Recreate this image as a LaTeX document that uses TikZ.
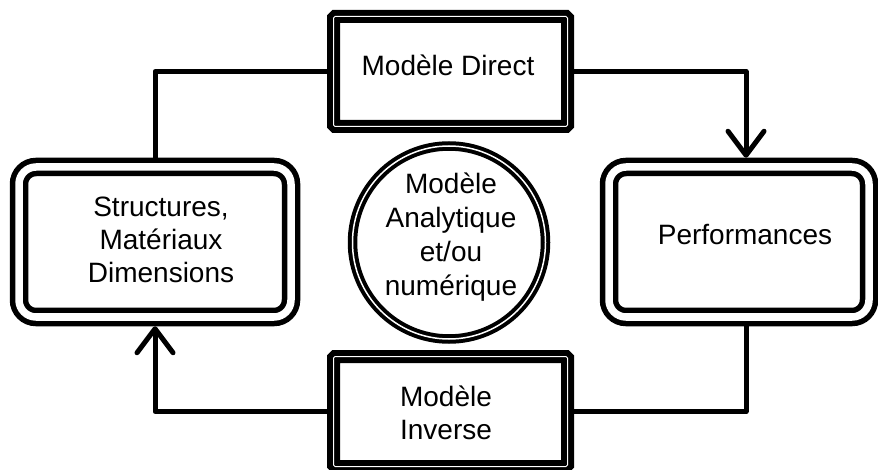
\documentclass[tikz,border=0pt]{standalone}
\usepackage{fontspec}
\setmainfont{Liberation Sans}
\usetikzlibrary{arrows.meta}
\begin{document}
\begin{tikzpicture}[x=1pt,y=-1pt,
  label text/.style={font=\fontsize{28}{33}\selectfont, align=center, inner sep=0pt},
  model box/.style={draw, line width=6pt, double=white, double distance=1pt,
    rounded corners=1.5pt, minimum width=234pt, minimum height=110pt,
    inner sep=0pt, outer sep=6.5pt},
  stage box/.style={draw, line width=5.5pt, double=white, double distance=7.5pt,
    rounded corners=17pt, minimum height=150pt, inner sep=0pt, outer sep=9.25pt},
  core ring/.style={draw, circle, line width=4pt, double=white, double distance=1.5pt,
    minimum size=193pt, inner sep=0pt},
  link/.style={line width=5pt, line cap=round, line join=round},
  arrowed/.style={-{Straight Barb[length=24pt,width=36pt,line width=5pt,round]}}
]
\useasboundingbox (0,0) rectangle (878,470);

% frames
\node[model box] (direct) at (450.5,71.5) {};
\node[model box] (inverse) at (450.5,411.5) {};
\node[stage box, minimum width=272pt] (struct) at (155,242) {};
\node[stage box, minimum width=260pt] (perf) at (739,242) {};
\node[core ring] (core) at (449,242.5) {};

% texts
\node[label text] (directtext) at (448,65) {Modèle Direct};
\node[label text] (inversetext) at (446,413) {Modèle\\Inverse};
\node[label text] (structtext) at (161,240) {Structures,\\Matériaux\\Dimensions};
\node[label text] (perftext) at (745,235) {Performances};
\node[label text, font=\fontsize{28}{34}\selectfont] (coretext) at (451,237)
  {Modèle\\Analytique\\et/ou\\numérique};

% loop of connectors
\coordinate (perfin) at ([xshift=7pt]perf.north);
\coordinate (perfout) at ([xshift=7pt]perf.south);
\draw[link] (direct.west) -| (struct.north);
\draw[link, arrowed] (direct.east) -| (perfin);
\draw[link] (perfout) |- (inverse.east);
\draw[link, arrowed] (inverse.west) -| (struct.south);
\end{tikzpicture}
\end{document}
